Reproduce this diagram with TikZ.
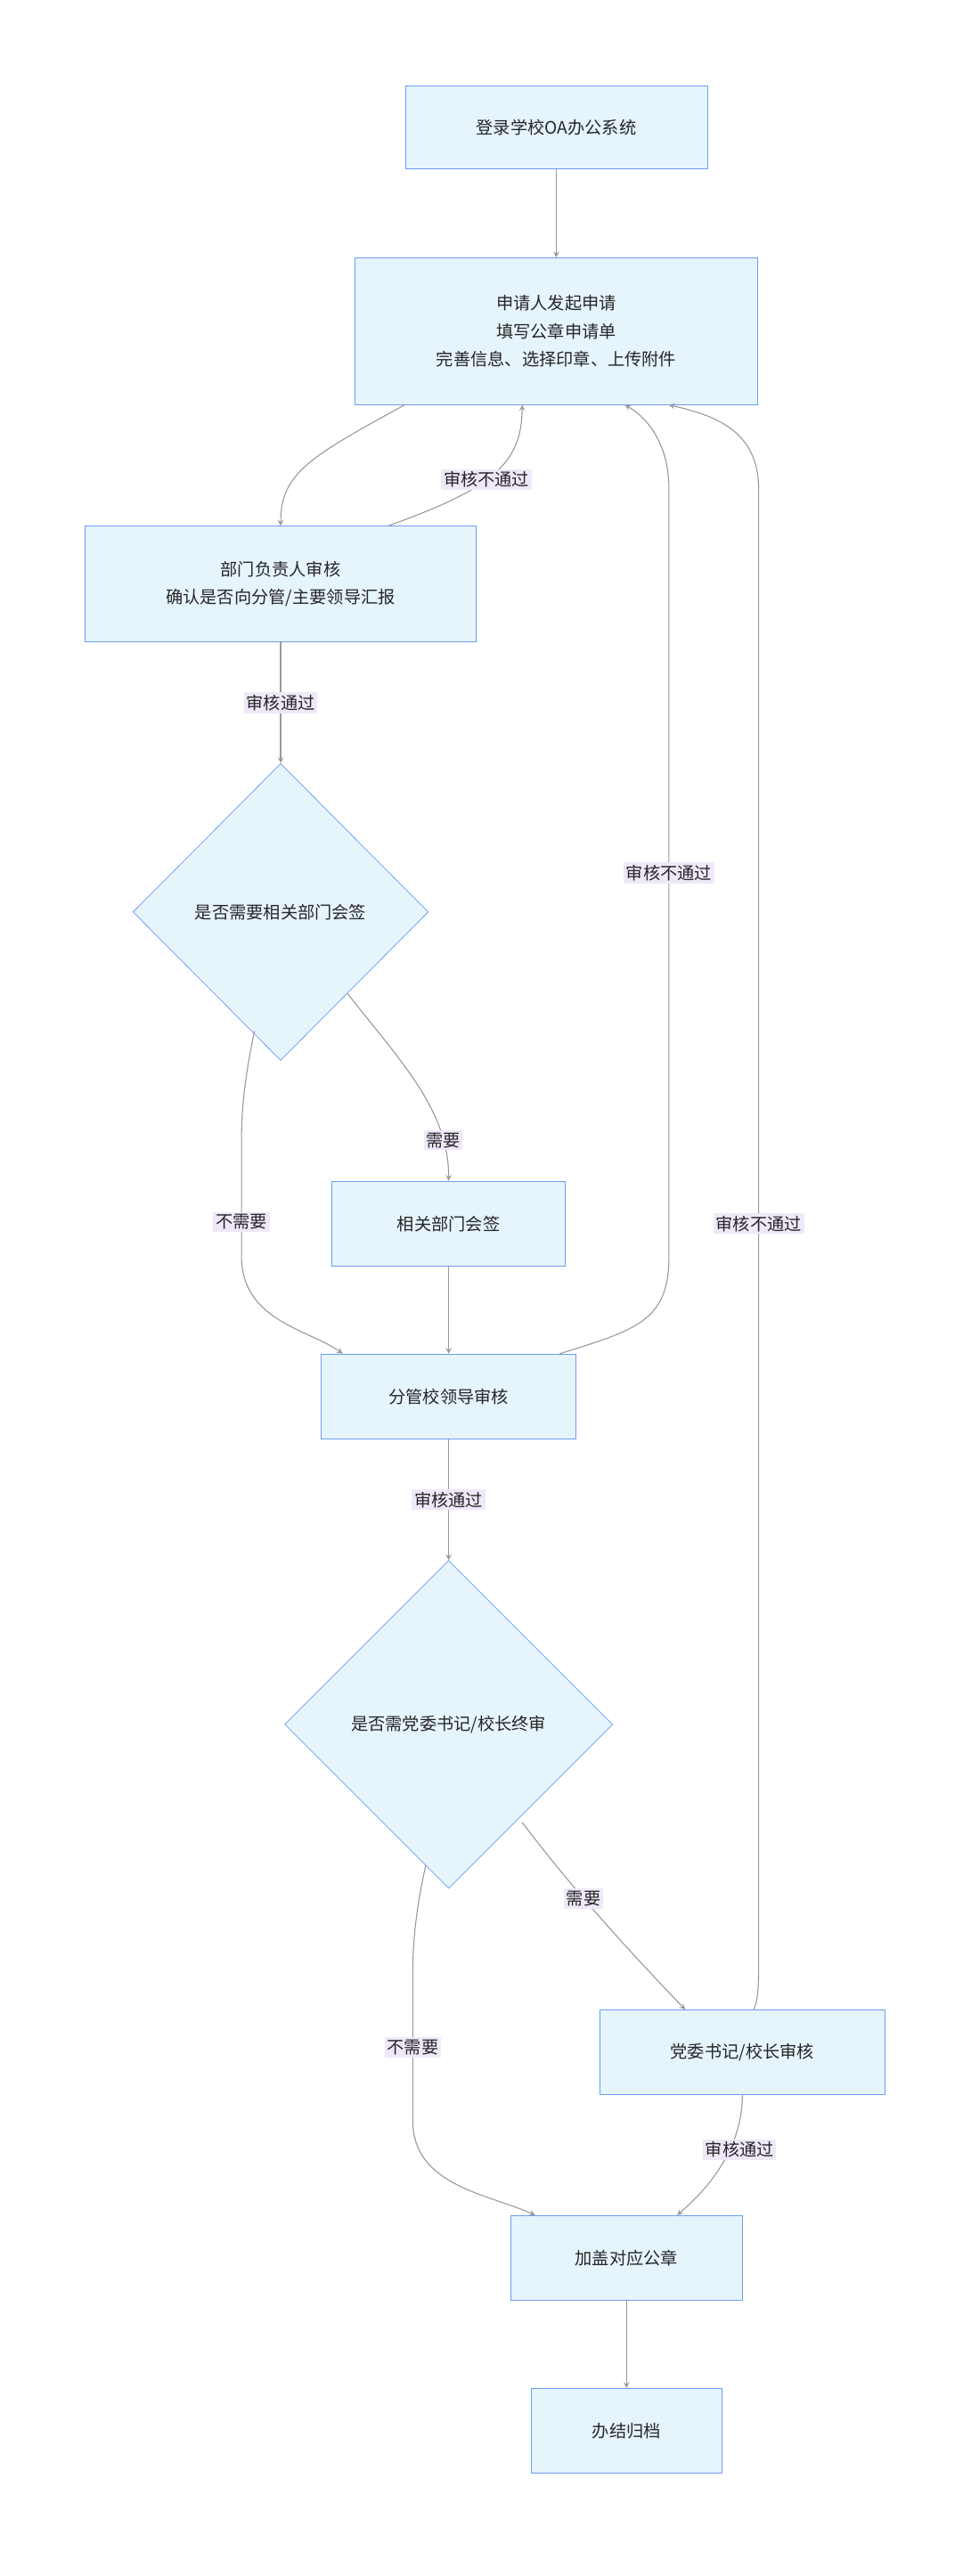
\documentclass[tikz,border=0pt]{standalone}
\usepackage{fontspec}
\setmainfont{Noto Sans CJK SC}
\usetikzlibrary{shapes.geometric, arrows}
\definecolor{boxfill}{HTML}{E6F4FC}
\definecolor{boxline}{HTML}{6E9CF4}
\definecolor{edgegray}{HTML}{999999}
\definecolor{lblfill}{HTML}{EFE8F8}
\begin{document}
\begin{tikzpicture}[x = 1pt, y = -1pt, % y grows downward
                > = stealth, % arrow head style
                every node/.style = {font = \fontsize{10.5}{17}\selectfont, text = black!85},
                box/.style = {draw = boxline, fill = boxfill, rectangle, align = center,
                inner sep = 0pt},
                dia/.style = {draw = boxline, fill = boxfill, diamond, inner sep = 0pt},
                flow/.style = {->, draw = edgegray, line width = 0.6pt},
                lbl/.style = {fill = lblfill, inner sep = 1.5pt}
            ]

            \useasboundingbox (0,0) rectangle (600,1579);

            % nodes
            \node[box, minimum width = 185pt, minimum height = 51pt] (login) at (341,78) {登录学校OA办公系统};
            \node[box, minimum width = 247pt, minimum height = 90pt] (apply) at (341,203)
                {申请人发起申请\\填写公章申请单\\完善信息、选择印章、上传附件};
            \node[box, minimum width = 240pt, minimum height = 71pt] (dept) at (172,358)
                {部门负责人审核\\确认是否向分管/主要领导汇报};
            \node[dia, minimum width = 181pt, minimum height = 182pt] (needsign) at (172,559) {是否需要相关部门会签};
            \node[box, minimum width = 143pt, minimum height = 52pt] (sign) at (275,750) {相关部门会签};
            \node[box, minimum width = 156pt, minimum height = 52pt] (leader) at (275,856) {分管校领导审核};
            \node[dia, minimum width = 201pt, minimum height = 201pt] (needfinal) at (275,1057) {是否需党委书记/校长终审};
            \node[box, minimum width = 175pt, minimum height = 52pt] (party) at (455,1258) {党委书记/校长审核};
            \node[box, minimum width = 142pt, minimum height = 52pt] (stamp) at (384,1384) {加盖对应公章};
            \node[box, minimum width = 117pt, minimum height = 52pt] (archive) at (384,1490) {办结归档};

            % exit points on the diamonds
            \coordinate (signyes) at (213,609); \coordinate (signno) at (156,632);
            \coordinate (finalyes) at (320,1117); \coordinate (finalno) at (261,1143);
            % bend points
            \coordinate (rA) at (410,770); \coordinate (rB) at (410,300);
            \coordinate (pA) at (465,1200); \coordinate (pB) at (465,300);
            \coordinate (lA) at (148,700); \coordinate (lB) at (253,1210);

            % connectors
            \draw[flow] (login) -- (apply);
            \draw[flow] ([xshift = -93pt]apply.south) .. controls (190,280) and (172,290) .. (dept.north);
            \draw[flow] ([xshift = 66pt]dept.north) .. controls (300,300) and (320,285) .. node[lbl, pos = 0.45] {审核不通过} ([xshift = -21pt]apply.south);
            \draw[flow] (dept) -- node[lbl] {审核通过} (needsign);
            \draw[flow] (signyes) .. controls (245,650) and (275,680) .. node[lbl, pos = 0.8] {需要} (sign.north);
            \draw[flow] (signno) .. controls (150,660) and (148,680) .. (lA)
                -- node[lbl, pos = 0.7] {不需要} (148,770) .. controls (148,810) and (190,815) .. ([xshift = -65pt]leader.north);
            \draw[flow] (sign) -- (leader);
            \draw[flow] ([xshift = 68pt]leader.north) .. controls (390,815) and (410,810) .. (rA)
                -- node[lbl] {审核不通过} (rB) .. controls (410,270) and (395,255) .. ([xshift = 42pt]apply.south);
            \draw[flow] (leader) -- node[lbl] {审核通过} (needfinal);
            \draw[flow] (finalyes) .. controls (345,1150) and (375,1185) .. node[lbl, pos = 0.45] {需要} ([xshift = -35pt]party.north);
            \draw[flow] (finalno) .. controls (255,1170) and (253,1190) .. (lB)
                -- node[lbl, pos = 0.5] {不需要} (253,1300) .. controls (253,1340) and (300,1345) .. ([xshift = -56pt]stamp.north);
            \draw[flow] ([xshift = 7pt]party.north) .. controls (465,1225) and (465,1215) .. (pA)
                -- node[lbl] {审核不通过} (pB) .. controls (465,265) and (440,255) .. ([xshift = 69pt]apply.south);
            \draw[flow] (party.south) .. controls (455,1320) and (430,1345) .. node[lbl, pos = 0.35, xshift = 6pt] {审核通过} ([xshift = 31pt]stamp.north);
            \draw[flow] (stamp) -- (archive);
        \end{tikzpicture}
\end{document}
